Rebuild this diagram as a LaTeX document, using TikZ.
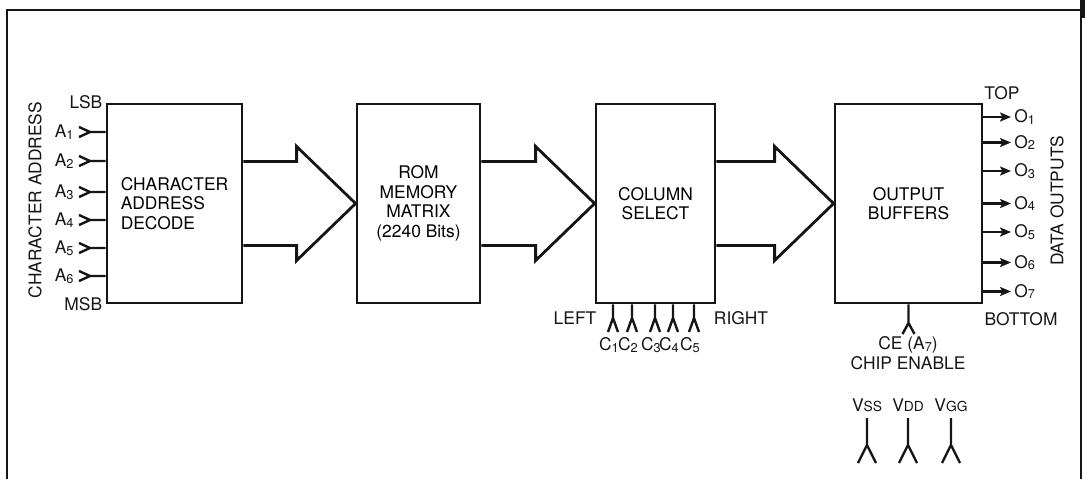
\documentclass[tikz,border=0pt]{standalone}
\usepackage{fontspec}
\setsansfont{TeX Gyre Heros}
\usetikzlibrary{arrows.meta, positioning, calc}
\definecolor{cink}{HTML}{151515}
\newcommand{\lo}[1]{\raisebox{-0.9pt}{\fontsize{6.4}{7}\selectfont #1}}
\newcommand{\smc}[1]{{\fontsize{6.9}{7}\selectfont #1}}
\tikzset{
  every picture/.style={font=\sffamily\fontsize{8.7}{9.8}\selectfont, line width=1.4pt},
  box/.style={draw=cink, align=center, inner sep=0pt, minimum height=99.5pt},
  fat/.style={draw=cink, line width=1.4pt, line join=miter},
  pin/.style={draw=cink, line width=1.2pt},
  outarrow/.style={-{Stealth[length=5.5pt, width=4.5pt, inset=1.2pt]}, draw=cink, line width=1.2pt},
  note/.style={text=cink, inner sep=1pt},
}

\begin{document}
\begin{tikzpicture}[x=0.5pt, y=0.5pt]
  \useasboundingbox (0,0) rectangle (1085,478);
  \draw[cink, line width=1.2pt] (7,-5) -- (7,468) -- (1081,468) -- (1081,-5);
  \fill[cink] (1080,460) rectangle (1085,478);
  \node[box, minimum width=67.5pt, align=left] (dec) at (174.5,274.5) {CHARACTER\\ADDRESS\\DECODE};
  \node[box, minimum width=61.5pt] (rom) at (418.5,274.5) {ROM\\MEMORY\\MATRIX\\(2240 Bits)};
  \node[box, minimum width=59.5pt] (col) at (655.5,274.5) {COLUMN\\SELECT};
  \node[box, minimum width=73.5pt] (buf) at (908.5,274.5) {OUTPUT\\BUFFERS};
  % wide bus arrows between the blocks
  \foreach \a/\b in {dec/rom, rom/col, col/buf}
    \draw[fat] ($(\a.east)+(0,42)$) -- ($(\b.west)+(-59,42)$) -- ++(0,15) -- (\b.west) -- ($(\b.west)+(-59,-57)$) -- ++(0,15) -- ($(\a.east)+(0,-42)$);
  \foreach \y/\i in {346/1, 317/2, 286/3, 258/4, 230/5, 202/6} {
    \coordinate (a\i) at (90,\y);
    \draw[pin] (dec.west |- a\i) -- (a\i) -- ++(-11,5) (a\i) -- ++(-11,-5);
    \node[note, anchor=east] (la\i) at (77,\y) {A\lo{\i}};
  }
  \node[note, anchor=east] (lsb) at (dec.north west) {LSB};
  \node[note, anchor=east] (msb) at (dec.south west) {MSB};
  \node[note, rotate=90] (caddr) at (35,278) {CHARACTER ADDRESS};
  \foreach \y/\i in {361/1, 335.5/2, 307/3, 274.5/4, 246/5, 215.5/6, 186.5/7} {
    \coordinate (o\i) at (1011,\y);
    \draw[outarrow] (buf.east |- o\i) -- (o\i);
    \node[note, anchor=west] (lo\i) at (1011,\y) {O\lo{\i}};
  }
  \node[note] (top) at (1002,385) {TOP};
  \node[note] (bottom) at (1021,159) {BOTTOM};
  \node[note, rotate=90] (dout) at (1057,277) {DATA OUTPUTS};
  \foreach \x/\i in {613/1, 632/2, 655/3, 673/4, 694/5} {
    \coordinate (c\i) at (\x,160);
    \draw[pin] (col.south -| c\i) -- (c\i) -- ++(-5,-14) (c\i) -- ++(5,-14);
    \node[note] (lc\i) at (\x-4,133) {C\lo{\i}};
  }
  \node[note] (left) at (575,160) {LEFT};
  \node[note] (right) at (741,160) {RIGHT};
  \coordinate (ce) at (buf.south |- 0,155);
  \draw[pin] (buf.south) -- (ce) -- ++(-6,-11) (ce) -- ++(6,-11);
  \node[note] (cea) at (908,133) {CE (A\lo{7})};
  \node[note] (chip) at (908,115) {CHIP ENABLE};
  \foreach \x/\n/\s in {867/vss/SS, 908/vdd/DD, 951/vgg/GG} {
    \node[note] (\n) at (\x,73) {V\smc{\s}};
    \draw[pin] (\n.south |- 0,60) -- (\n.south |- 0,33) coordinate (f\n) -- ++(-9,-18) (f\n) -- ++(9,-18);
  }
\end{tikzpicture}
\end{document}
